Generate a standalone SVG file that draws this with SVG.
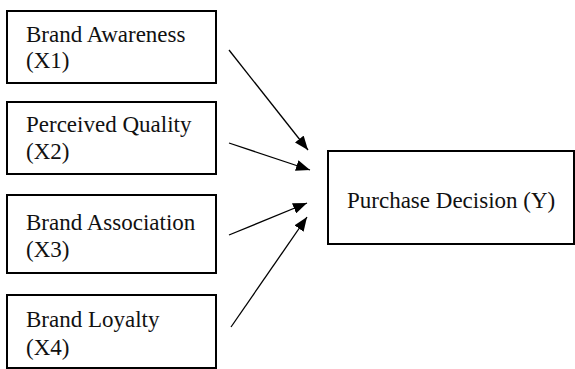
<svg xmlns="http://www.w3.org/2000/svg" width="575" height="369" viewBox="0 0 575 369">
<style>
.box{fill:#fff;stroke:#000;stroke-width:2}
.t{font-family:"Liberation Serif","Times New Roman","DejaVu Serif",serif;font-size:23px;fill:#111}
.c{stroke:#000;stroke-width:1.3;fill:none}
</style>
<defs>
<marker id="ah" viewBox="0 0 14 11" refX="14" refY="5.5" markerWidth="14" markerHeight="11" markerUnits="userSpaceOnUse" orient="auto">
<path d="M0,0 L14,5.5 L0,11 Z" fill="#000"/>
</marker>
</defs>
<rect width="575" height="369" fill="#fff"/>
<g id="x1"><rect class="box" x="7" y="11" width="209" height="72"/><text class="t" x="26" y="42">Brand Awareness</text><text class="t" x="26" y="68">(X1)</text></g>
<g id="x2"><rect class="box" x="7" y="102" width="209" height="72"/><text class="t" x="26" y="132">Perceived Quality</text><text class="t" x="26" y="159">(X2)</text></g>
<g id="x3"><rect class="box" x="7" y="195" width="209" height="78"/><text class="t" x="26" y="230">Brand Association</text><text class="t" x="26" y="257">(X3)</text></g>
<g id="x4"><rect class="box" x="7" y="295" width="209" height="73"/><text class="t" x="26" y="327">Brand Loyalty</text><text class="t" x="26" y="355">(X4)</text></g>
<g id="y"><rect class="box" x="328" y="151" width="246" height="93"/><text class="t" x="347" y="208">Purchase Decision (Y)</text></g>
<g id="connectors">
<line class="c" x1="229" y1="50" x2="308" y2="150" marker-end="url(#ah)"/>
<line class="c" x1="229" y1="143" x2="310" y2="170" marker-end="url(#ah)"/>
<line class="c" x1="229" y1="235" x2="307" y2="203" marker-end="url(#ah)"/>
<line class="c" x1="231" y1="327" x2="307" y2="217" marker-end="url(#ah)"/>
</g>
</svg>
